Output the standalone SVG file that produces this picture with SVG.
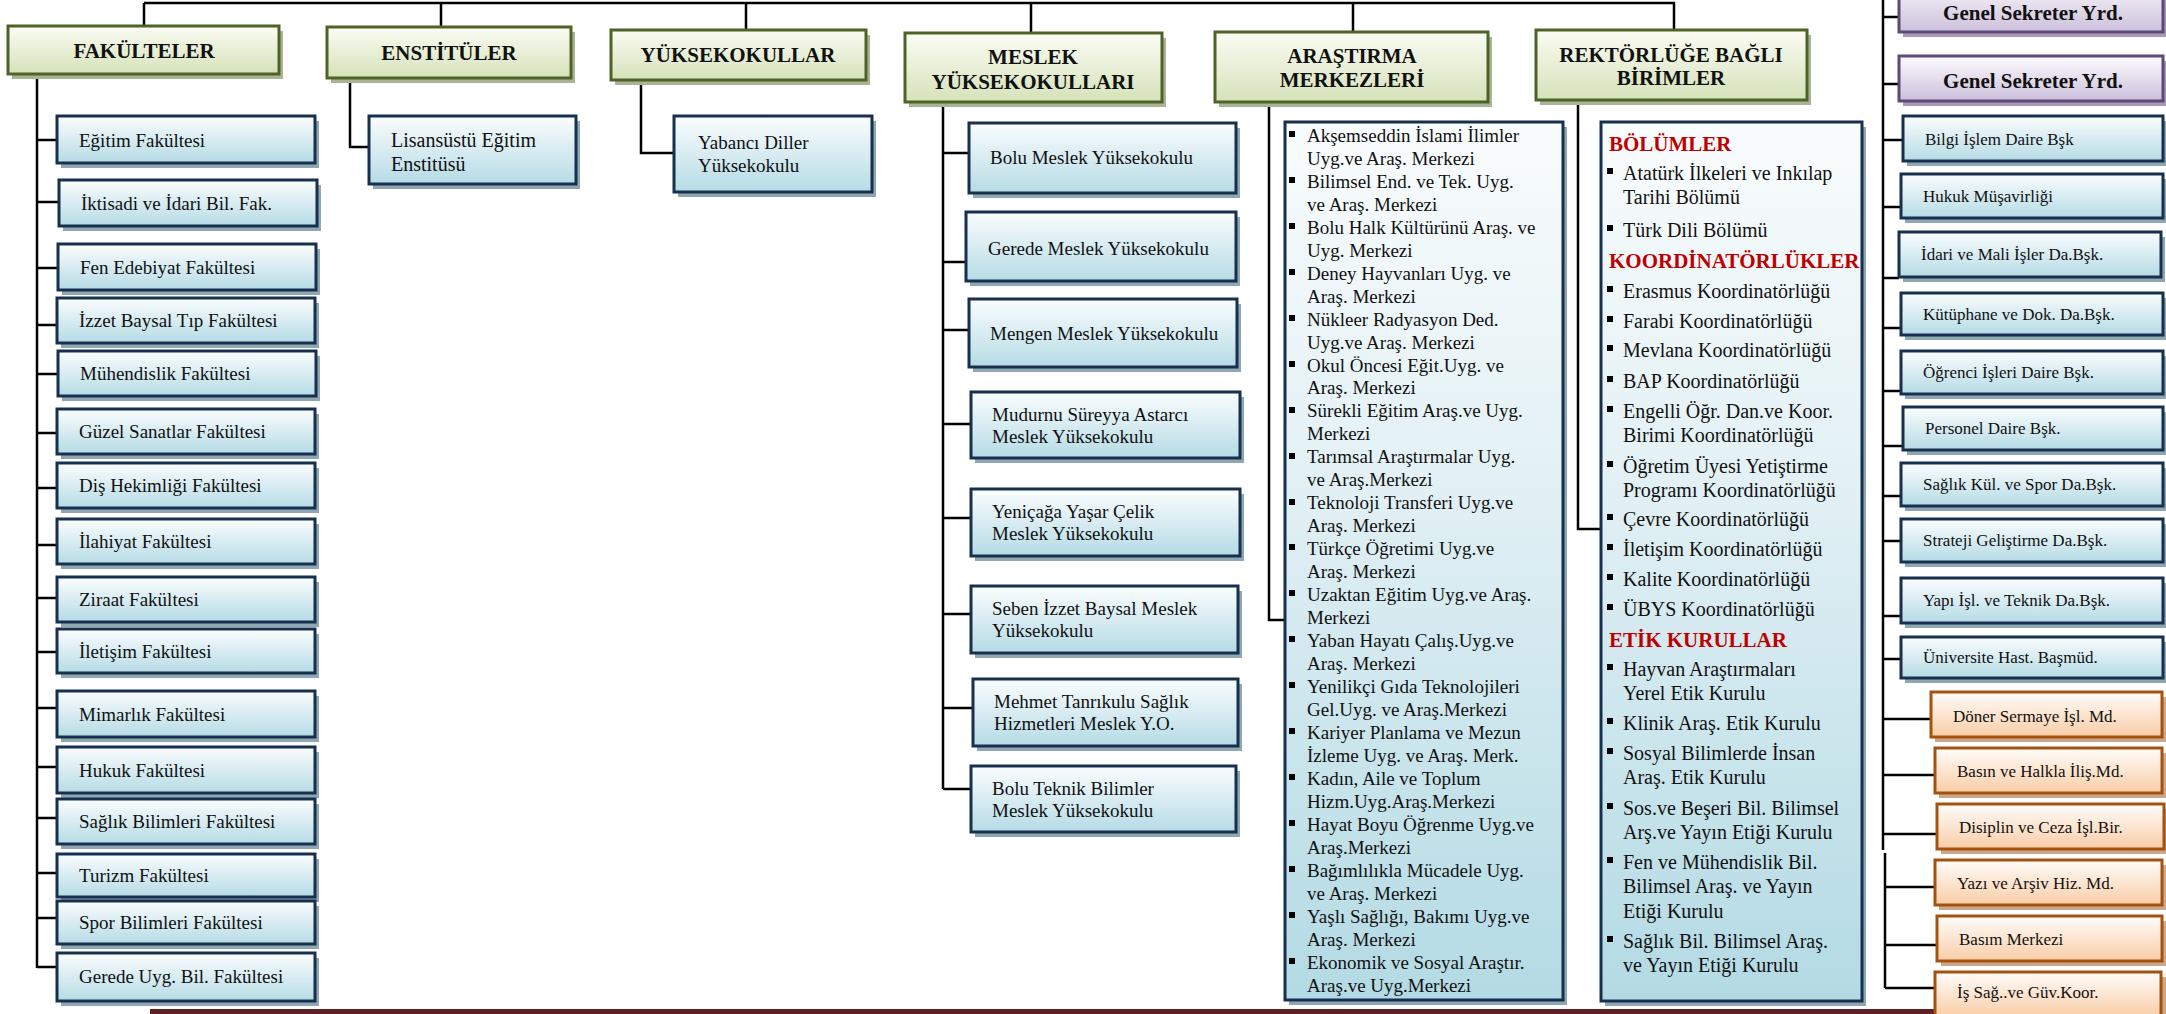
<svg xmlns="http://www.w3.org/2000/svg" width="2166" height="1014" viewBox="0 0 2166 1014">
<defs>
<linearGradient id="gG" x1="0" y1="0" x2="0" y2="1"><stop offset="0" stop-color="#fbfcf4"/><stop offset="1" stop-color="#d5e2b9"/></linearGradient>
<linearGradient id="gB" x1="0" y1="0" x2="0" y2="1"><stop offset="0" stop-color="#fbfdfe"/><stop offset="1" stop-color="#b5dbe5"/></linearGradient>
<linearGradient id="gP" x1="0" y1="0" x2="0" y2="1"><stop offset="0" stop-color="#fdfcfe"/><stop offset="1" stop-color="#cbbfdb"/></linearGradient>
<linearGradient id="gO" x1="0" y1="0" x2="0" y2="1"><stop offset="0" stop-color="#fffdfb"/><stop offset="1" stop-color="#f9cda6"/></linearGradient>
<linearGradient id="gL" x1="0" y1="0" x2="0" y2="1"><stop offset="0" stop-color="#f9fcfd"/><stop offset="0.4" stop-color="#e3f1f5"/><stop offset="1" stop-color="#b3dae4"/></linearGradient>
</defs>
<style>
.g{fill:url(#gG);stroke:#4f6228;stroke-width:3}
.b{fill:url(#gB);stroke:#17304f;stroke-width:3}
.l{fill:url(#gL);stroke:#17304f;stroke-width:3}
.p{fill:url(#gP);stroke:#5f497a;stroke-width:3}
.o{fill:url(#gO);stroke:#a5520f;stroke-width:3}
.sg{fill:#a9b396}
.sb{fill:#8ea7b0}
.sp{fill:#a79cb3}
.so{fill:#c9a88e}
.h{font-family:"Liberation Serif","Times New Roman",serif;font-weight:bold;font-size:21px;fill:#111;text-anchor:middle}
.t{font-family:"Liberation Serif","Times New Roman",serif;font-size:19px;fill:#111}
.r{font-family:"Liberation Serif","Times New Roman",serif;font-size:20px;fill:#111}
.s{font-family:"Liberation Serif","Times New Roman",serif;font-size:17px;fill:#111}
.red{font-family:"Liberation Serif","Times New Roman",serif;font-weight:bold;font-size:21px;fill:#c00000}
.c{fill:none;stroke:#000;stroke-width:2.5}
.bu{fill:#000}
</style>
<rect x="0" y="0" width="2166" height="1014" fill="#fff"/>
<rect x="150" y="1009" width="2016" height="5" fill="#5e2121"/>

<g id="connectors">
<path class="c" d="M144 3H1674V30"/>
<path class="c" d="M144 3V26M441 3V27M746 3V30M1031 3V33M1353 3V32"/>
<path class="c" d="M37 78V968"/>
<path class="c" d="M37 140H57M37 202H59M37 268H58M37 325H57M37 374H58M37 433H57M37 488H57M37 545H57M37 598H57M37 652H57M37 708H57M37 767H57M37 818H57M37 873H57M37 918H57M37 967H57"/>
<path class="c" d="M350 78V147H369"/>
<path class="c" d="M641 80V153H674"/>
<path class="c" d="M943 102V789"/>
<path class="c" d="M943 153H969M943 262H966M943 330H969M943 424H971M943 518H971M943 614H971M943 708H973M943 789H971"/>
<path class="c" d="M1269 102V620H1285"/>
<path class="c" d="M1578 100V529H1601"/>
<path class="c" d="M1883 0V850M1885 853V988"/>
<path class="c" d="M1883 17H1899M1883 84H1899M1883 140H1903M1883 207H1901M1883 278H1899M1883 328H1901M1883 391H1901M1883 446H1903M1883 496H1901M1883 541H1901M1883 616H1901M1883 659H1901M1883 719H1931M1883 775H1935M1883 834H1937M1885 887H1935M1885 945H1937M1885 988H1935"/>
</g>

<g id="n-fakulteler"><rect class="sg" x="12" y="31" width="271" height="48"/><rect class="g" x="8" y="26" width="271" height="48"/><text class="h" x="144" y="58">FAKÜLTELER</text></g>
<g id="n-enstituler"><rect class="sg" x="331" y="32" width="244" height="51"/><rect class="g" x="327" y="27" width="244" height="51"/><text class="h" x="449" y="60">ENSTİTÜLER</text></g>
<g id="n-yuksekokullar"><rect class="sg" x="615" y="35" width="255" height="50"/><rect class="g" x="611" y="30" width="255" height="50"/><text class="h" x="738" y="62">YÜKSEKOKULLAR</text></g>
<g id="n-myo"><rect class="sg" x="909" y="38" width="257" height="69"/><rect class="g" x="905" y="33" width="257" height="69"/><text class="h" x="1033" y="64">MESLEK</text><text class="h" x="1033" y="89">YÜKSEKOKULLARI</text></g>
<g id="n-arastirma"><rect class="sg" x="1219" y="37" width="273" height="70"/><rect class="g" x="1215" y="32" width="273" height="70"/><text class="h" x="1352" y="63">ARAŞTIRMA</text><text class="h" x="1352" y="87">MERKEZLERİ</text></g>
<g id="n-rektorluk"><rect class="sg" x="1540" y="35" width="271" height="70"/><rect class="g" x="1536" y="30" width="271" height="70"/><text class="h" x="1671" y="62">REKTÖRLÜĞE BAĞLI</text><text class="h" x="1671" y="85">BİRİMLER</text></g>

<g id="n-egitim"><rect class="sb" x="61" y="121" width="258" height="47"/><rect class="b" x="57" y="116" width="258" height="47"/><text class="t" x="79" y="147">Eğitim Fakültesi</text></g>
<g id="n-iktisadi"><rect class="sb" x="63" y="185" width="258" height="46"/><rect class="b" x="59" y="180" width="258" height="46"/><text class="t" x="81" y="210">İktisadi ve İdari Bil. Fak.</text></g>
<g id="n-fen"><rect class="sb" x="62" y="249" width="258" height="46"/><rect class="b" x="58" y="244" width="258" height="46"/><text class="t" x="80" y="274">Fen Edebiyat Fakültesi</text></g>
<g id="n-tip"><rect class="sb" x="61" y="303" width="258" height="45"/><rect class="b" x="57" y="298" width="258" height="45"/><text class="t" x="79" y="327">İzzet Baysal Tıp Fakültesi</text></g>
<g id="n-muhendislik"><rect class="sb" x="62" y="356" width="258" height="45"/><rect class="b" x="58" y="351" width="258" height="45"/><text class="t" x="80" y="380">Mühendislik Fakültesi</text></g>
<g id="n-guzel"><rect class="sb" x="61" y="414" width="258" height="45"/><rect class="b" x="57" y="409" width="258" height="45"/><text class="t" x="79" y="438">Güzel Sanatlar Fakültesi</text></g>
<g id="n-dis"><rect class="sb" x="61" y="468" width="258" height="45"/><rect class="b" x="57" y="463" width="258" height="45"/><text class="t" x="79" y="492">Diş Hekimliği Fakültesi</text></g>
<g id="n-ilahiyat"><rect class="sb" x="61" y="524" width="258" height="45"/><rect class="b" x="57" y="519" width="258" height="45"/><text class="t" x="79" y="548">İlahiyat Fakültesi</text></g>
<g id="n-ziraat"><rect class="sb" x="61" y="582" width="258" height="45"/><rect class="b" x="57" y="577" width="258" height="45"/><text class="t" x="79" y="606">Ziraat Fakültesi</text></g>
<g id="n-iletisim"><rect class="sb" x="61" y="634" width="258" height="44"/><rect class="b" x="57" y="629" width="258" height="44"/><text class="t" x="79" y="658">İletişim Fakültesi</text></g>
<g id="n-mimarlik"><rect class="sb" x="61" y="696" width="258" height="46"/><rect class="b" x="57" y="691" width="258" height="46"/><text class="t" x="79" y="721">Mimarlık Fakültesi</text></g>
<g id="n-hukuk"><rect class="sb" x="61" y="752" width="258" height="46"/><rect class="b" x="57" y="747" width="258" height="46"/><text class="t" x="79" y="777">Hukuk Fakültesi</text></g>
<g id="n-saglik"><rect class="sb" x="61" y="804" width="258" height="45"/><rect class="b" x="57" y="799" width="258" height="45"/><text class="t" x="79" y="828">Sağlık Bilimleri Fakültesi</text></g>
<g id="n-turizm"><rect class="sb" x="61" y="859" width="258" height="43"/><rect class="b" x="57" y="854" width="258" height="43"/><text class="t" x="79" y="882">Turizm Fakültesi</text></g>
<g id="n-spor"><rect class="sb" x="61" y="906" width="258" height="43"/><rect class="b" x="57" y="901" width="258" height="43"/><text class="t" x="79" y="929">Spor Bilimleri Fakültesi</text></g>
<g id="n-gerede-fak"><rect class="sb" x="61" y="958" width="258" height="48"/><rect class="b" x="57" y="953" width="258" height="48"/><text class="t" x="79" y="983">Gerede Uyg. Bil. Fakültesi</text></g>

<g id="n-lisansustu"><rect class="sb" x="373" y="121" width="207" height="68"/><rect class="b" x="369" y="116" width="207" height="68"/><text class="r" x="391" y="147">Lisansüstü Eğitim</text><text class="r" x="391" y="171">Enstitüsü</text></g>
<g id="n-yabanci"><rect class="sb" x="678" y="121" width="198" height="76"/><rect class="b" x="674" y="116" width="198" height="76"/><text class="t" x="698" y="149">Yabancı Diller</text><text class="t" x="698" y="172">Yüksekokulu</text></g>

<g id="n-bolu-myo"><rect class="sb" x="973" y="128" width="267" height="70"/><rect class="b" x="969" y="123" width="267" height="70"/><text class="t" x="990" y="164">Bolu Meslek Yüksekokulu</text></g>
<g id="n-gerede-myo"><rect class="sb" x="970" y="217" width="270" height="69"/><rect class="b" x="966" y="212" width="270" height="69"/><text class="t" x="988" y="255">Gerede Meslek Yüksekokulu</text></g>
<g id="n-mengen"><rect class="sb" x="973" y="304" width="268" height="68"/><rect class="b" x="969" y="299" width="268" height="68"/><text class="t" x="990" y="340">Mengen Meslek Yüksekokulu</text></g>
<g id="n-mudurnu"><rect class="sb" x="975" y="397" width="269" height="66"/><rect class="b" x="971" y="392" width="269" height="66"/><text class="t" x="992" y="421">Mudurnu Süreyya Astarcı</text><text class="t" x="992" y="443">Meslek Yüksekokulu</text></g>
<g id="n-yenicaga"><rect class="sb" x="975" y="494" width="269" height="67"/><rect class="b" x="971" y="489" width="269" height="67"/><text class="t" x="992" y="518">Yeniçağa Yaşar Çelik</text><text class="t" x="992" y="540">Meslek Yüksekokulu</text></g>
<g id="n-seben"><rect class="sb" x="975" y="591" width="267" height="67"/><rect class="b" x="971" y="586" width="267" height="67"/><text class="t" x="992" y="615">Seben İzzet Baysal Meslek</text><text class="t" x="992" y="637">Yüksekokulu</text></g>
<g id="n-mehmet"><rect class="sb" x="977" y="684" width="265" height="67"/><rect class="b" x="973" y="679" width="265" height="67"/><text class="t" x="994" y="708">Mehmet Tanrıkulu Sağlık</text><text class="t" x="994" y="730">Hizmetleri Meslek Y.O.</text></g>
<g id="n-bolu-teknik"><rect class="sb" x="975" y="771" width="265" height="66"/><rect class="b" x="971" y="766" width="265" height="66"/><text class="t" x="992" y="795">Bolu Teknik Bilimler</text><text class="t" x="992" y="817">Meslek Yüksekokulu</text></g>

<g id="n-arastirma-list">
<rect class="sb" x="1289" y="127" width="278" height="878"/>
<rect class="l" x="1285" y="122" width="278" height="878"/>
<g class="bu">
<rect x="1289" y="131" width="6" height="6"/><rect x="1289" y="177" width="6" height="6"/><rect x="1289" y="223" width="6" height="6"/><rect x="1289" y="269" width="6" height="6"/><rect x="1289" y="315" width="6" height="6"/><rect x="1289" y="361" width="6" height="6"/><rect x="1289" y="407" width="6" height="6"/><rect x="1289" y="453" width="6" height="6"/><rect x="1289" y="499" width="6" height="6"/><rect x="1289" y="544" width="6" height="6"/><rect x="1289" y="590" width="6" height="6"/><rect x="1289" y="636" width="6" height="6"/><rect x="1289" y="682" width="6" height="6"/><rect x="1289" y="728" width="6" height="6"/><rect x="1289" y="774" width="6" height="6"/><rect x="1289" y="820" width="6" height="6"/><rect x="1289" y="866" width="6" height="6"/><rect x="1289" y="912" width="6" height="6"/><rect x="1289" y="958" width="6" height="6"/>
</g>
<text class="t" x="1307" y="142">Akşemseddin İslami İlimler</text>
<text class="t" x="1307" y="165">Uyg.ve Araş. Merkezi</text>
<text class="t" x="1307" y="188">Bilimsel End. ve Tek. Uyg.</text>
<text class="t" x="1307" y="211">ve Araş. Merkezi</text>
<text class="t" x="1307" y="234">Bolu Halk Kültürünü Araş. ve</text>
<text class="t" x="1307" y="257">Uyg. Merkezi</text>
<text class="t" x="1307" y="280">Deney Hayvanları Uyg. ve</text>
<text class="t" x="1307" y="303">Araş. Merkezi</text>
<text class="t" x="1307" y="326">Nükleer Radyasyon Ded.</text>
<text class="t" x="1307" y="349">Uyg.ve Araş. Merkezi</text>
<text class="t" x="1307" y="372">Okul Öncesi Eğit.Uyg. ve</text>
<text class="t" x="1307" y="394">Araş. Merkezi</text>
<text class="t" x="1307" y="417">Sürekli Eğitim Araş.ve Uyg.</text>
<text class="t" x="1307" y="440">Merkezi</text>
<text class="t" x="1307" y="463">Tarımsal Araştırmalar Uyg.</text>
<text class="t" x="1307" y="486">ve Araş.Merkezi</text>
<text class="t" x="1307" y="509">Teknoloji Transferi Uyg.ve</text>
<text class="t" x="1307" y="532">Araş. Merkezi</text>
<text class="t" x="1307" y="555">Türkçe Öğretimi Uyg.ve</text>
<text class="t" x="1307" y="578">Araş. Merkezi</text>
<text class="t" x="1307" y="601">Uzaktan Eğitim Uyg.ve Araş.</text>
<text class="t" x="1307" y="624">Merkezi</text>
<text class="t" x="1307" y="647">Yaban Hayatı Çalış.Uyg.ve</text>
<text class="t" x="1307" y="670">Araş. Merkezi</text>
<text class="t" x="1307" y="693">Yenilikçi Gıda Teknolojileri</text>
<text class="t" x="1307" y="716">Gel.Uyg. ve Araş.Merkezi</text>
<text class="t" x="1307" y="739">Kariyer Planlama ve Mezun</text>
<text class="t" x="1307" y="762">İzleme Uyg. ve Araş. Merk.</text>
<text class="t" x="1307" y="785">Kadın, Aile ve Toplum</text>
<text class="t" x="1307" y="808">Hizm.Uyg.Araş.Merkezi</text>
<text class="t" x="1307" y="831">Hayat Boyu Öğrenme Uyg.ve</text>
<text class="t" x="1307" y="854">Araş.Merkezi</text>
<text class="t" x="1307" y="877">Bağımlılıkla Mücadele Uyg.</text>
<text class="t" x="1307" y="900">ve Araş. Merkezi</text>
<text class="t" x="1307" y="923">Yaşlı Sağlığı, Bakımı Uyg.ve</text>
<text class="t" x="1307" y="946">Araş. Merkezi</text>
<text class="t" x="1307" y="969">Ekonomik ve Sosyal Araştır.</text>
<text class="t" x="1307" y="992">Araş.ve Uyg.Merkezi</text>
</g>

<g id="n-rektorluk-list">
<rect class="sb" x="1605" y="127" width="261" height="879"/>
<rect class="l" x="1601" y="122" width="261" height="879"/>
<text class="red" x="1609" y="151">BÖLÜMLER</text>
<text class="red" x="1609" y="268">KOORDİNATÖRLÜKLER</text>
<text class="red" x="1609" y="647">ETİK KURULLAR</text>
<g class="bu">
<rect x="1607" y="168" width="6" height="6"/><rect x="1607" y="225" width="6" height="6"/><rect x="1607" y="286" width="6" height="6"/><rect x="1607" y="316" width="6" height="6"/><rect x="1607" y="345" width="6" height="6"/><rect x="1607" y="376" width="6" height="6"/><rect x="1607" y="406" width="6" height="6"/><rect x="1607" y="461" width="6" height="6"/><rect x="1607" y="514" width="6" height="6"/><rect x="1607" y="544" width="6" height="6"/><rect x="1607" y="574" width="6" height="6"/><rect x="1607" y="604" width="6" height="6"/><rect x="1607" y="664" width="6" height="6"/><rect x="1607" y="718" width="6" height="6"/><rect x="1607" y="748" width="6" height="6"/><rect x="1607" y="803" width="6" height="6"/><rect x="1607" y="857" width="6" height="6"/><rect x="1607" y="936" width="6" height="6"/>
</g>
<text class="r" x="1623" y="180">Atatürk İlkeleri ve Inkılap</text>
<text class="r" x="1623" y="204">Tarihi Bölümü</text>
<text class="r" x="1623" y="237">Türk Dili Bölümü</text>
<text class="r" x="1623" y="298">Erasmus Koordinatörlüğü</text>
<text class="r" x="1623" y="328">Farabi Koordinatörlüğü</text>
<text class="r" x="1623" y="357">Mevlana Koordinatörlüğü</text>
<text class="r" x="1623" y="388">BAP Koordinatörlüğü</text>
<text class="r" x="1623" y="418">Engelli Öğr. Dan.ve Koor.</text>
<text class="r" x="1623" y="442">Birimi Koordinatörlüğü</text>
<text class="r" x="1623" y="473">Öğretim Üyesi Yetiştirme</text>
<text class="r" x="1623" y="497">Programı Koordinatörlüğü</text>
<text class="r" x="1623" y="526">Çevre Koordinatörlüğü</text>
<text class="r" x="1623" y="556">İletişim Koordinatörlüğü</text>
<text class="r" x="1623" y="586">Kalite Koordinatörlüğü</text>
<text class="r" x="1623" y="616">ÜBYS Koordinatörlüğü</text>
<text class="r" x="1623" y="676">Hayvan Araştırmaları</text>
<text class="r" x="1623" y="700">Yerel Etik Kurulu</text>
<text class="r" x="1623" y="730">Klinik Araş. Etik Kurulu</text>
<text class="r" x="1623" y="760">Sosyal Bilimlerde İnsan</text>
<text class="r" x="1623" y="784">Araş. Etik Kurulu</text>
<text class="r" x="1623" y="815">Sos.ve Beşeri Bil. Bilimsel</text>
<text class="r" x="1623" y="839">Arş.ve Yayın Etiği Kurulu</text>
<text class="r" x="1623" y="869">Fen ve Mühendislik Bil.</text>
<text class="r" x="1623" y="893">Bilimsel Araş. ve Yayın</text>
<text class="r" x="1623" y="918">Etiği Kurulu</text>
<text class="r" x="1623" y="948">Sağlık Bil. Bilimsel Araş.</text>
<text class="r" x="1623" y="972">ve Yayın Etiği Kurulu</text>
</g>

<g id="n-gensek1"><rect class="sp" x="1903" y="-15" width="264" height="52"/><rect class="p" x="1899" y="-20" width="264" height="52"/><text class="h" x="2033" y="20">Genel Sekreter Yrd.</text></g>
<g id="n-gensek2"><rect class="sp" x="1903" y="61" width="264" height="45"/><rect class="p" x="1899" y="56" width="264" height="45"/><text class="h" x="2033" y="88">Genel Sekreter Yrd.</text></g>

<g id="n-bilgi"><rect class="sb" x="1907" y="121" width="260" height="45"/><rect class="b" x="1903" y="116" width="260" height="45"/><text class="s" x="1925" y="145">Bilgi İşlem Daire Bşk</text></g>
<g id="n-hukuk-mus"><rect class="sb" x="1905" y="179" width="262" height="44"/><rect class="b" x="1901" y="174" width="262" height="44"/><text class="s" x="1923" y="202">Hukuk Müşavirliği</text></g>
<g id="n-idari"><rect class="sb" x="1903" y="237" width="262" height="45"/><rect class="b" x="1899" y="232" width="262" height="45"/><text class="s" x="1921" y="260">İdari ve Mali İşler Da.Bşk.</text></g>
<g id="n-kutuphane"><rect class="sb" x="1905" y="298" width="262" height="42"/><rect class="b" x="1901" y="293" width="262" height="42"/><text class="s" x="1923" y="320">Kütüphane ve Dok. Da.Bşk.</text></g>
<g id="n-ogrenci"><rect class="sb" x="1905" y="356" width="262" height="43"/><rect class="b" x="1901" y="351" width="262" height="43"/><text class="s" x="1923" y="378">Öğrenci İşleri Daire Bşk.</text></g>
<g id="n-personel"><rect class="sb" x="1907" y="412" width="260" height="43"/><rect class="b" x="1903" y="407" width="260" height="43"/><text class="s" x="1925" y="434">Personel Daire Bşk.</text></g>
<g id="n-sks"><rect class="sb" x="1905" y="468" width="262" height="43"/><rect class="b" x="1901" y="463" width="262" height="43"/><text class="s" x="1923" y="490">Sağlık Kül. ve Spor Da.Bşk.</text></g>
<g id="n-strateji"><rect class="sb" x="1905" y="524" width="262" height="43"/><rect class="b" x="1901" y="519" width="262" height="43"/><text class="s" x="1923" y="546">Strateji Geliştirme Da.Bşk.</text></g>
<g id="n-yapi"><rect class="sb" x="1905" y="583" width="262" height="45"/><rect class="b" x="1901" y="578" width="262" height="45"/><text class="s" x="1923" y="606">Yapı İşl. ve Teknik Da.Bşk.</text></g>
<g id="n-hastane"><rect class="sb" x="1905" y="642" width="262" height="41"/><rect class="b" x="1901" y="637" width="262" height="41"/><text class="s" x="1923" y="663">Üniversite Hast. Başmüd.</text></g>

<g id="n-doner"><rect class="so" x="1935" y="697" width="231" height="45"/><rect class="o" x="1931" y="692" width="231" height="45"/><text class="s" x="1953" y="722">Döner Sermaye İşl. Md.</text></g>
<g id="n-basin"><rect class="so" x="1939" y="753" width="227" height="45"/><rect class="o" x="1935" y="748" width="227" height="45"/><text class="s" x="1957" y="777">Basın ve Halkla İliş.Md.</text></g>
<g id="n-disiplin"><rect class="so" x="1941" y="809" width="227" height="45"/><rect class="o" x="1937" y="804" width="227" height="45"/><text class="s" x="1959" y="833">Disiplin ve Ceza İşl.Bir.</text></g>
<g id="n-yazi"><rect class="so" x="1939" y="865" width="227" height="45"/><rect class="o" x="1935" y="860" width="227" height="45"/><text class="s" x="1957" y="889">Yazı ve Arşiv Hiz. Md.</text></g>
<g id="n-basim"><rect class="so" x="1941" y="921" width="225" height="45"/><rect class="o" x="1937" y="916" width="225" height="45"/><text class="s" x="1959" y="945">Basım Merkezi</text></g>
<g id="n-isg"><rect class="so" x="1939" y="977" width="227" height="45"/><rect class="o" x="1935" y="972" width="226" height="45"/><text class="s" x="1957" y="998">İş Sağ..ve Güv.Koor.</text></g>
</svg>
